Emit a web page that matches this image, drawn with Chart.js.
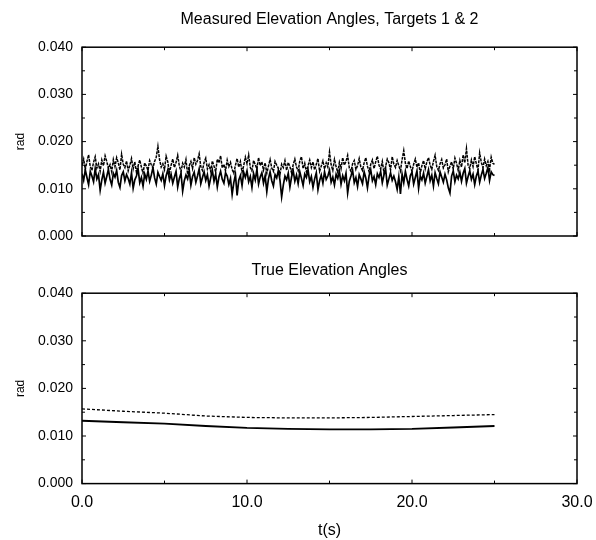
<!DOCTYPE html>
<html>
<head>
<meta charset="utf-8">
<script src="https://cdn.jsdelivr.net/npm/chart.js@4"></script>
<style>
  body { margin: 0; background: #fff; }
  #wrap { position: relative; width: 596px; height: 540px; }
  #measured { position: absolute; left: 0; top: 0; }
  #truth { position: absolute; left: 0; top: 250px; }
</style>
</head>
<body>
<div id="wrap">
  <canvas id="measured" width="596" height="250"></canvas>
  <canvas id="truth" width="596" height="290"></canvas>
</div>
<script>
// sample spacing of the measured data (s)
const measuredStep = 0.1;
const measuredTarget1 = [
  0.0150, 0.0163, 0.0141, 0.0158, 0.0172, 0.0147, 0.0139, 0.0156, 0.0168, 0.0144,
  0.0153, 0.0137, 0.0161, 0.0149, 0.0170, 0.0158, 0.0143, 0.0151, 0.0136, 0.0162,
  0.0147, 0.0166, 0.0155, 0.0140, 0.0173, 0.0152, 0.0145, 0.0159, 0.0138, 0.0150,
  0.0164, 0.0142, 0.0157, 0.0135, 0.0149, 0.0161, 0.0146, 0.0133, 0.0155, 0.0148,
  0.0139, 0.0160, 0.0151, 0.0144, 0.0158, 0.0167, 0.0190, 0.0162, 0.0146, 0.0153,
  0.0141, 0.0169, 0.0157, 0.0134, 0.0150, 0.0163, 0.0145, 0.0156, 0.0171, 0.0148,
  0.0137, 0.0154, 0.0146, 0.0162, 0.0131, 0.0149, 0.0158, 0.0143, 0.0166, 0.0152,
  0.0160, 0.0174, 0.0147, 0.0139, 0.0156, 0.0165, 0.0142, 0.0151, 0.0137, 0.0159,
  0.0148, 0.0136, 0.0163, 0.0155, 0.0170, 0.0144, 0.0152, 0.0138, 0.0161, 0.0147,
  0.0156, 0.0141, 0.0133, 0.0150, 0.0164, 0.0146, 0.0158, 0.0135, 0.0149, 0.0167,
  0.0153, 0.0172, 0.0145, 0.0138, 0.0160, 0.0151, 0.0142, 0.0166, 0.0149, 0.0157,
  0.0140, 0.0155, 0.0133, 0.0148, 0.0162, 0.0144, 0.0137, 0.0158, 0.0150, 0.0143,
  0.0131, 0.0152, 0.0145, 0.0160, 0.0139, 0.0156, 0.0147, 0.0134, 0.0151, 0.0163,
  0.0146, 0.0138, 0.0159, 0.0168, 0.0143, 0.0154, 0.0136, 0.0149, 0.0161, 0.0145,
  0.0157, 0.0140, 0.0152, 0.0164, 0.0137, 0.0148, 0.0159, 0.0142, 0.0155, 0.0146,
  0.0178, 0.0151, 0.0139, 0.0162, 0.0147, 0.0135, 0.0156, 0.0143, 0.0166, 0.0150,
  0.0158, 0.0171, 0.0144, 0.0137, 0.0153, 0.0160, 0.0141, 0.0149, 0.0164, 0.0146,
  0.0139, 0.0155, 0.0166, 0.0148, 0.0136, 0.0152, 0.0161, 0.0143, 0.0157, 0.0169,
  0.0150, 0.0142, 0.0158, 0.0134, 0.0147, 0.0163, 0.0155, 0.0140, 0.0168, 0.0152,
  0.0145, 0.0160, 0.0149, 0.0138, 0.0162, 0.0181, 0.0154, 0.0143, 0.0159, 0.0147,
  0.0137, 0.0152, 0.0163, 0.0146, 0.0155, 0.0133, 0.0149, 0.0160, 0.0142, 0.0157,
  0.0166, 0.0150, 0.0141, 0.0158, 0.0171, 0.0147, 0.0139, 0.0153, 0.0162, 0.0144,
  0.0151, 0.0163, 0.0136, 0.0148, 0.0157, 0.0142, 0.0165, 0.0154, 0.0139, 0.0160,
  0.0146, 0.0172, 0.0155, 0.0185, 0.0150, 0.0143, 0.0161, 0.0147, 0.0168, 0.0153,
  0.0140, 0.0176, 0.0156, 0.0145, 0.0163, 0.0149, 0.0158, 0.0141, 0.0167, 0.0154,
  0.0152
];
const measuredTarget2 = [
  0.0132, 0.0118, 0.0140, 0.0124, 0.0109, 0.0137, 0.0127, 0.0115, 0.0143, 0.0121,
  0.0130, 0.0097, 0.0119, 0.0135, 0.0112, 0.0126, 0.0141, 0.0120, 0.0108, 0.0133,
  0.0125, 0.0139, 0.0114, 0.0103, 0.0128, 0.0136, 0.0117, 0.0130, 0.0122, 0.0110,
  0.0134, 0.0101, 0.0119, 0.0127, 0.0142, 0.0113, 0.0124, 0.0106, 0.0131, 0.0120,
  0.0138, 0.0116, 0.0129, 0.0145, 0.0123, 0.0110, 0.0135, 0.0126, 0.0118, 0.0132,
  0.0107, 0.0128, 0.0140, 0.0119, 0.0131, 0.0112, 0.0125, 0.0137, 0.0104, 0.0122,
  0.0133, 0.0095, 0.0117, 0.0129, 0.0121, 0.0139, 0.0108, 0.0126, 0.0135, 0.0114,
  0.0127, 0.0142, 0.0111, 0.0124, 0.0136, 0.0118, 0.0130, 0.0106, 0.0123, 0.0139,
  0.0116, 0.0131, 0.0104, 0.0125, 0.0137, 0.0120, 0.0112, 0.0134, 0.0127, 0.0109,
  0.0122, 0.0088, 0.0113, 0.0130, 0.0086, 0.0118, 0.0128, 0.0107, 0.0135, 0.0124,
  0.0138, 0.0115, 0.0126, 0.0103, 0.0132, 0.0119, 0.0141, 0.0110, 0.0125, 0.0134,
  0.0112, 0.0128, 0.0094, 0.0121, 0.0136, 0.0117, 0.0106, 0.0130, 0.0123, 0.0139,
  0.0118, 0.0083, 0.0108, 0.0127, 0.0119, 0.0133, 0.0104, 0.0125, 0.0138, 0.0116,
  0.0129, 0.0111, 0.0136, 0.0122, 0.0107, 0.0131, 0.0124, 0.0140, 0.0115, 0.0126,
  0.0103, 0.0121, 0.0134, 0.0098, 0.0117, 0.0129, 0.0112, 0.0136, 0.0120, 0.0127,
  0.0139, 0.0114, 0.0125, 0.0108, 0.0131, 0.0122, 0.0137, 0.0110, 0.0128, 0.0117,
  0.0133, 0.0091, 0.0116, 0.0127, 0.0139, 0.0113, 0.0124, 0.0105, 0.0130, 0.0121,
  0.0111, 0.0136, 0.0123, 0.0102, 0.0128, 0.0140, 0.0117, 0.0126, 0.0109, 0.0132,
  0.0124, 0.0137, 0.0113, 0.0129, 0.0142, 0.0108, 0.0121, 0.0134, 0.0118, 0.0127,
  0.0115, 0.0099, 0.0125, 0.0089, 0.0131, 0.0113, 0.0137, 0.0120, 0.0106, 0.0128,
  0.0135, 0.0110, 0.0124, 0.0138, 0.0101, 0.0127, 0.0119, 0.0133, 0.0112, 0.0126,
  0.0140, 0.0117, 0.0129, 0.0106, 0.0134, 0.0122, 0.0111, 0.0136, 0.0125, 0.0114,
  0.0131, 0.0119, 0.0102, 0.0091, 0.0127, 0.0138, 0.0115, 0.0129, 0.0121, 0.0135,
  0.0116, 0.0133, 0.0143, 0.0112, 0.0126, 0.0138, 0.0120, 0.0131, 0.0109, 0.0127,
  0.0137, 0.0114, 0.0129, 0.0141, 0.0122, 0.0133, 0.0145, 0.0118, 0.0136, 0.0130,
  0.0128
];

const trueTimes = [0, 2.5, 5, 7.5, 10, 12.5, 15, 17.5, 20, 22.5, 25];
const trueTarget1 = [0.0157, 0.0152, 0.0148, 0.0142, 0.0139, 0.0138, 0.0138, 0.0139, 0.0141, 0.0143, 0.0145];
const trueTarget2 = [0.0132, 0.0129, 0.0126, 0.0121, 0.0117, 0.0115, 0.0114, 0.0114, 0.0115, 0.0118, 0.0121];

const xMajorTicks = [0, 10, 20, 30];
const xMinorTicks = [5, 15, 25];
const yMajorTicks = [0, 0.01, 0.02, 0.03, 0.04];
const yMinorTicks = [0.005, 0.015, 0.025, 0.035];

const toPoints = (xs, ys) => ys.map((y, i) => ({ x: xs[i], y: y }));
const measuredTimes = measuredTarget1.map((_, i) => i * measuredStep);

const FONT = "'Liberation Sans', Arial, sans-serif";
const NARROW = "'Liberation Sans Narrow', 'Liberation Sans', Arial, sans-serif";

// frame + inward tick marks on all four sides
const frameTicks = {
  id: 'frameTicks',
  afterDraw(chart) {
    const { ctx, chartArea: a, scales } = chart;
    ctx.save();
    ctx.strokeStyle = '#000';
    ctx.lineWidth = 1.5;
    ctx.strokeRect(a.left, a.top, a.right - a.left, a.bottom - a.top);
    ctx.lineWidth = 1;
    ctx.beginPath();
    const xt = (v, len) => {
      const px = scales.x.getPixelForValue(v);
      ctx.moveTo(px, a.bottom); ctx.lineTo(px, a.bottom - len);
      ctx.moveTo(px, a.top); ctx.lineTo(px, a.top + len);
    };
    const yt = (v, len) => {
      const py = scales.y.getPixelForValue(v);
      ctx.moveTo(a.left, py); ctx.lineTo(a.left + len, py);
      ctx.moveTo(a.right, py); ctx.lineTo(a.right - len, py);
    };
    xMajorTicks.forEach(v => xt(v, 4));
    xMinorTicks.forEach(v => xt(v, 3));
    yMajorTicks.forEach(v => yt(v, 4));
    yMinorTicks.forEach(v => yt(v, 3));
    ctx.stroke();
    ctx.restore();
  }
};

const yScale = () => ({
  min: 0, max: 0.04,
  grid: { display: false, drawTicks: false },
  border: { display: false },
  ticks: {
    stepSize: 0.01, padding: 9, color: '#000',
    font: { family: FONT, size: 14 },
    callback: v => v.toFixed(3)
  },
  title: { display: true, text: 'rad', color: '#000', font: { family: FONT, size: 12 }, padding: { top: 13, bottom: 0 } },
  afterFit: s => { s.width = 82; s.paddingTop = 0; s.paddingBottom = 0; }
});

const lineSet = (data, dash, width) => ({
  data: data, borderColor: '#000', borderWidth: width, borderDash: dash,
  pointRadius: 0, tension: 0, fill: false
});

const titleOpts = (text, top, bottom) => ({
  display: true, text: text, fullSize: false, color: '#000',
  font: { family: FONT, size: 16, weight: 'normal' },
  padding: { top: top, bottom: bottom }
});

new Chart(document.getElementById('measured'), {
  type: 'line',
  data: {
    datasets: [
      lineSet(toPoints(measuredTimes, measuredTarget1), [3, 1], 1.5),
      lineSet(toPoints(measuredTimes, measuredTarget2), [], 1.7)
    ]
  },
  options: {
    responsive: false, animation: false,
    layout: { padding: { left: 0, right: 19, top: 0, bottom: 14 } },
    plugins: {
      legend: { display: false }, tooltip: { enabled: false },
      title: titleOpts('Measured Elevation Angles, Targets 1 & 2', 10, 18)
    },
    scales: {
      x: { type: 'linear', min: 0, max: 30, display: false },
      y: yScale()
    }
  },
  plugins: [frameTicks]
});

new Chart(document.getElementById('truth'), {
  type: 'line',
  data: {
    datasets: [
      lineSet(toPoints(trueTimes, trueTarget1), [3, 2], 1.3),
      lineSet(toPoints(trueTimes, trueTarget2), [], 1.9)
    ]
  },
  options: {
    responsive: false, animation: false,
    layout: { padding: { left: 0, right: 19, top: 0, bottom: 0 } },
    plugins: {
      legend: { display: false }, tooltip: { enabled: false },
      title: titleOpts('True Elevation Angles', 11, 13)
    },
    scales: {
      x: {
        type: 'linear', min: 0, max: 30,
        grid: { display: false, drawTicks: false },
        border: { display: false },
        ticks: {
          stepSize: 10, padding: 9, color: '#000', maxRotation: 0,
          font: { family: NARROW, size: 16 },
          callback: v => v.toFixed(1)
        },
        title: { display: true, text: 't(s)', color: '#000', font: { family: NARROW, size: 16 }, padding: { top: 0, bottom: 0 } },
        afterFit: s => { s.paddingLeft = 0; s.paddingRight = 0; }
      },
      y: yScale()
    }
  },
  plugins: [frameTicks]
});
</script>
</body>
</html>
